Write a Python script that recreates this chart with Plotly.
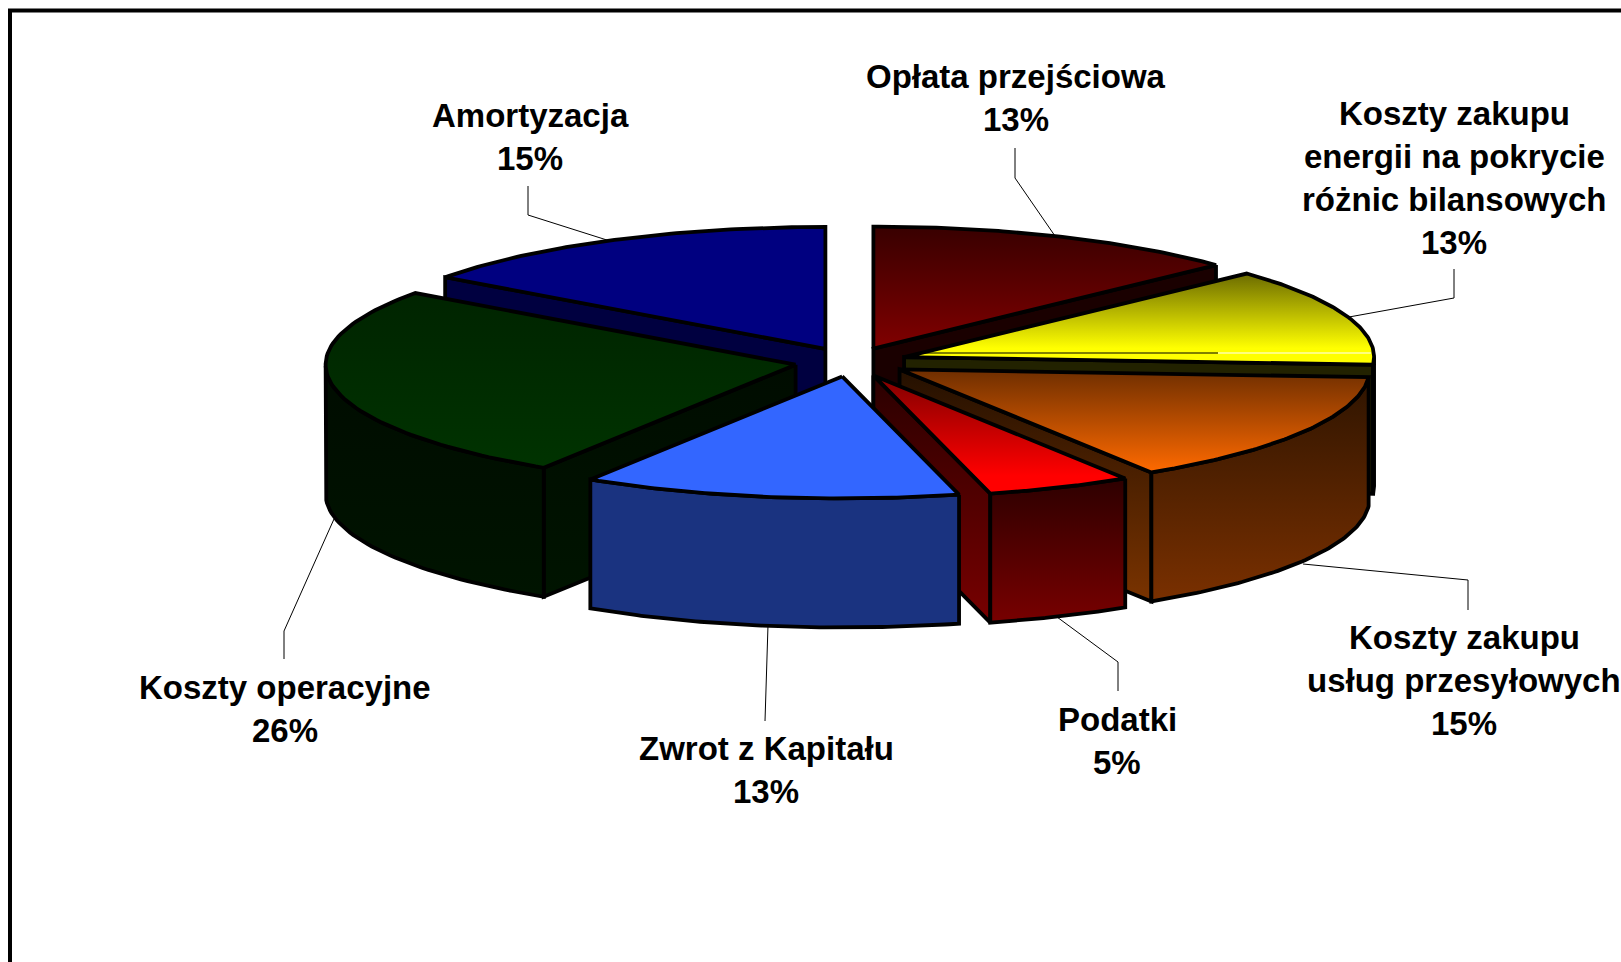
import numpy as np
import plotly.graph_objects as go

W, H = 1621, 962

CATEGORIES = ["Opłata przejściowa", "Koszty zakupu energii na pokrycie różnic bilansowych",
              "Koszty zakupu usług przesyłowych", "Podatki", "Zwrot z Kapitału",
              "Koszty operacyjne", "Amortyzacja"]
VALUES = [13, 13, 15, 5, 13, 26, 15]
LABEL_LINES = [["Opłata przejściowa"],
               ["Koszty zakupu", "energii na pokrycie", "różnic bilansowych"],
               ["Koszty zakupu", "usług przesyłowych"],
               ["Podatki"],
               ["Zwrot z Kapitału"],
               ["Koszty operacyjne"],
               ["Amortyzacja"]]
LABEL_CENTERS = [(1016, 98), (1454, 178), (1464, 680), (1117, 741), (766, 770), (285, 709), (530, 137)]
LEADERS = [[(1015, 148), (1015, 178), (1055, 236)],
           [(1454, 269), (1454, 298), (1349, 317)],
           [(1468, 610), (1468, 580), (1303, 564)],
           [(1118, 691), (1118, 662), (1057, 617)],
           [(765, 721), (768, 625)],
           [(284, 659), (284, 631), (334, 519)],
           [(528, 186), (528, 215), (610, 241)]]
PULL = 0.12

# colours: top gradient, end-wall gradient, outer-wall gradient (upper, lower)
TOP = [("#380000", "#800000"), ("#6b6b00", "#ffff00"), ("#6e2e00", "#ff6a00"), ("#800000", "#ff0000"),
       ("#3366ff", "#3366ff"), ("#002400", "#003300"), ("#000080", "#000080")]
TOP_FULL_AT = [1, 0.82, 1, 0.85, 1, 1, 1]
WALL = [("#1a0000", "#1a0000"), ("#222200", "#222200"), ("#241000", "#7a3300"), ("#2a0000", "#780000"),
        ("#1a3380", "#1a3380"), ("#000c00", "#001400"), ("#000040", "#000040")]
OUTER = [("#1a0000", "#1a0000"), ("#6a6a00", "#9a9a00"), ("#2e1400", "#7a3000"), ("#2d0000", "#780000"),
         ("#1a3380", "#1a3380"), ("#000c00", "#001400"), ("#000040", "#000040")]

CX, CY, RX, RY, DEPTH = 851, 362, 470, 122, 129
DRAW_ORDER = [6, 0, 1, 5, 2, 3, 4]
FONT = "Liberation Sans, Arial, sans-serif"
FONT_SIZE = 33
LINE_STEP = 43

fig = go.Figure()


def poly(xs, ys, cols, full_at=1.0, width=3.8):
    # the y axis is reversed, so position 0 of the gradient is the lower edge
    stops = [[0, cols[1]], [1 - full_at, cols[1]], [1, cols[0]]] if full_at < 1 else [[0, cols[1]], [1, cols[0]]]
    fig.add_trace(go.Scatter(
        x=list(xs) + [xs[0]], y=list(ys) + [ys[0]], mode="lines", fill="toself",
        line=dict(color="black", width=width),
        fillgradient=dict(type="vertical", colorscale=stops),
        hoverinfo="skip", showlegend=False))


# leader lines (under the slices)
for pts in LEADERS:
    fig.add_trace(go.Scatter(x=[p[0] for p in pts], y=[p[1] for p in pts], mode="lines",
                             line=dict(color="black", width=1), hoverinfo="skip", showlegend=False))

total = sum(VALUES)
edges = np.cumsum([0] + VALUES) / total * 2 * np.pi

for i in DRAW_ORDER:
    a0, a1 = edges[i], edges[i + 1]
    mid = (a0 + a1) / 2
    ax = CX + PULL * RX * np.sin(mid)
    ay = CY - PULL * RY * np.cos(mid)
    th = np.linspace(a0, a1, 80)
    px = ax + RX * np.sin(th)
    py = ay - RY * np.cos(th)
    # end walls facing the viewer
    for (x0, y0, x1, y1) in [(ax, ay, px[0], py[0]), (px[-1], py[-1], ax, ay)]:
        if x1 < x0 - 0.5:
            poly([x0, x1, x1, x0], [y0, y1, y1 + DEPTH, y0 + DEPTH], WALL[i])
    # outer wall, front half of the rim
    m = (th >= np.pi / 2) & (th <= 3 * np.pi / 2)
    if m.sum() > 1:
        qx, qy = px[m], py[m]
        poly(list(qx) + list(qx[::-1]), list(qy) + list(qy[::-1] + DEPTH), OUTER[i])
    # top face
    poly([ax] + list(px), [ay] + list(py), TOP[i], TOP_FULL_AT[i])
    if i == 1:
        fig.add_trace(go.Scatter(x=[ax + 20, 1218], y=[353, 353], mode="lines",
                                 line=dict(color="black", width=1), hoverinfo="skip", showlegend=False))
        fig.add_trace(go.Scatter(x=[1218, 1371], y=[353, 353], mode="lines",
                                 line=dict(color="white", width=1), hoverinfo="skip", showlegend=False))

annotations = []
for i, lines in enumerate(LABEL_LINES):
    all_lines = lines + [f"{VALUES[i]}%"]
    xc, yc = LABEL_CENTERS[i]
    n = len(all_lines)
    for k, t in enumerate(all_lines):
        annotations.append(dict(x=xc, y=yc + (k - (n - 1) / 2) * LINE_STEP, text=f"<b>{t}</b>", showarrow=False,
                                xref="x", yref="y", xanchor="center", yanchor="middle",
                                font=dict(family=FONT, size=FONT_SIZE, color="black")))

fig.update_layout(
    width=W, height=H, margin=dict(l=0, r=0, t=0, b=0, pad=0), autosize=False,
    paper_bgcolor="white", plot_bgcolor="white", showlegend=False,
    xaxis=dict(range=[0, W], visible=False, fixedrange=True),
    yaxis=dict(range=[H, 0], visible=False, fixedrange=True),
    annotations=annotations,
    shapes=[dict(type="rect", x0=10, y0=10.5, x1=W + 20, y1=H + 20, xref="x", yref="y",
                 line=dict(color="black", width=4), layer="below")],
)
fig.write_html("out.html", config=dict(displayModeBar=False),
               post_script="document.body.style.margin='0';document.documentElement.style.overflow='hidden';")
